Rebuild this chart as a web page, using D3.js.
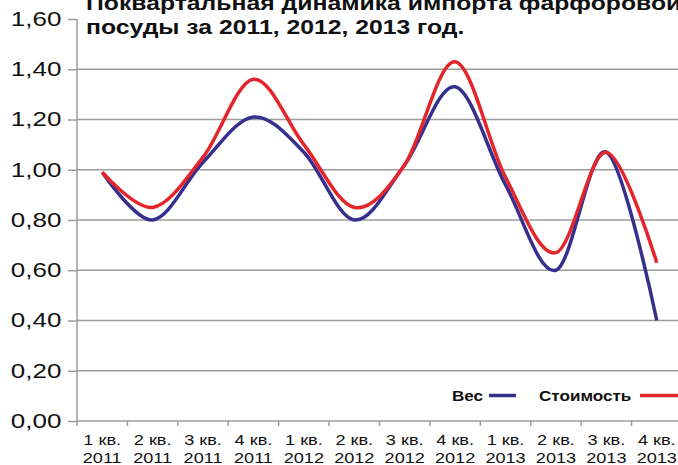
<!DOCTYPE html>
<html>
<head>
<meta charset="utf-8">
<title>Импорт фарфоровой посуды</title>
<script src="https://cdn.jsdelivr.net/npm/d3@7"></script>
<style>
body { margin: 0; background: #fff; }
svg { display: block; font-family: "Liberation Sans", Arial, Helvetica, sans-serif; }
</style>
</head>
<body>
<div id="grafico"></div>
<script>
// данные
var categories = ["1 кв. 2011", "2 кв. 2011", "3 кв. 2011", "4 кв. 2011",
                  "1 кв. 2012", "2 кв. 2012", "3 кв. 2012", "4 кв. 2012",
                  "1 кв. 2013", "2 кв. 2013", "3 кв. 2013", "4 кв. 2013"];
var ves      = [0.99, 0.80, 1.03, 1.21, 1.07, 0.80, 1.02, 1.33, 0.94, 0.60, 1.07, 0.40];
var stoimost = [0.99, 0.85, 1.05, 1.36, 1.10, 0.85, 1.02, 1.43, 0.97, 0.67, 1.07, 0.63];
var yTicks = [0, 0.2, 0.4, 0.6, 0.8, 1.0, 1.2, 1.4, 1.6];
var titleLines = ["Поквартальная динамика импорта фарфоровой", "посуды за 2011, 2012, 2013 год."];
var seriesNames = ["Вес", "Стоимость"];
var colors = ["#372f8e", "#e3262b"];

var width = 678, height = 465;
var stretch = 1.25; // в оригинале текст растянут по горизонтали
var gridColor = "#9c9c9c";

var svg = d3.select("#grafico").append("svg")
	.attr("width", width)
	.attr("height", height);

var x = d3.scaleBand()
	.domain(categories)
	.range([77, 682]);

var y = d3.scaleLinear()
	.domain([0, 1.6])
	.range([421, 19]);

var ru = d3.formatLocale({decimal: ",", thousands: " ", grouping: [3], currency: ["", ""]});
var fmt = ru.format(".2f");

// сетка
svg.append("g")
	.selectAll("line")
	.data(yTicks.filter(function(v) { return v > 0 && v < 1.6; }))
  .enter().append("line")
	.attr("x1", 77).attr("x2", width)
	.attr("y1", function(d) { return y(d); })
	.attr("y2", function(d) { return y(d); })
	.attr("stroke", gridColor)
	.attr("stroke-width", 1.5);

// ось Y
var yAxis = d3.axisLeft(y).tickValues(yTicks).tickSize(9).tickPadding(6).tickFormat(fmt);
var gy = svg.append("g")
	.attr("transform", "translate(77,0)")
	.call(yAxis);
gy.select(".domain").remove();
gy.selectAll("line").attr("stroke", gridColor).attr("stroke-width", 1.5);
gy.append("line")
	.attr("x1", 0).attr("x2", 0)
	.attr("y1", y(1.6)).attr("y2", y(0) + 5)
	.attr("stroke", gridColor).attr("stroke-width", 1.5);
gy.selectAll("text")
	.attr("x", -15 / stretch)
	.attr("transform", "scale(" + 1.3 + ",1)")
	.style("font-size", "20px")
	.style("font-family", "'Liberation Sans', Arial, sans-serif")
	.attr("fill", "#111");

// ось X
var xAxis = d3.axisBottom(x).tickSize(0).tickPadding(0);
var gx = svg.append("g")
	.attr("transform", "translate(0," + y(0) + ")")
	.call(xAxis);
gx.select(".domain").remove();
gx.append("line")
	.attr("x1", 77).attr("x2", width)
	.attr("y1", 0).attr("y2", 0)
	.attr("stroke", gridColor).attr("stroke-width", 1.5);
gx.selectAll(".bound")
	.data(categories.slice(1))
  .enter().append("line")
	.attr("class", "bound")
	.attr("x1", function(d) { return x(d); })
	.attr("x2", function(d) { return x(d); })
	.attr("y1", 0).attr("y2", 5)
	.attr("stroke", gridColor).attr("stroke-width", 1.5);
gx.selectAll(".tick text").each(function(d) {
	var t = d3.select(this);
	var parts = d.split(" ");
	t.text(null)
		.attr("y", 0)
		.attr("dy", null)
		.attr("transform", "scale(" + stretch + ",1)")
		.style("font-size", "14.5px")
		.style("font-family", "'Liberation Sans', Arial, sans-serif")
		.attr("fill", "#111");
	t.append("tspan").attr("x", 0).attr("y", 24).text(parts[0] + " " + parts[1]);
	t.append("tspan").attr("x", 0).attr("y", 42).text(parts[2]);
});

// линии
var line = d3.line()
	.x(function(d, i) { return x(categories[i]) + x.bandwidth() / 2; })
	.y(function(d) { return y(d); })
	.curve(d3.curveCardinal);

[ves, stoimost].forEach(function(s, i) {
	svg.append("path")
		.datum(s)
		.attr("fill", "none")
		.attr("stroke", colors[i])
		.attr("stroke-width", 3.5)
		.attr("stroke-linecap", "butt")
		.attr("d", line);
});

// заголовок
var title = svg.append("g").attr("transform", "translate(86,0)");
titleLines.forEach(function(s, i) {
	title.append("text")
		.attr("transform", "translate(0," + (9.5 + i * 24) + ") scale(" + stretch + ",1)")
		.style("font-size", "19.8px")
		.style("font-weight", "bold")
		.attr("fill", "#111")
		.text(s);
});

// легенда
var legend = svg.append("g").attr("class", "legend");
var legendItems = [{x: 452, lx: 489, lw: 27}, {x: 539, lx: 640, lw: 40}];
legendItems.forEach(function(it, i) {
	legend.append("text")
		.attr("transform", "translate(" + it.x + ",400.5) scale(" + 1.22 + ",1)")
		.style("font-size", "14px")
		.style("font-weight", "bold")
		.attr("fill", "#111")
		.text(seriesNames[i]);
	legend.append("line")
		.attr("x1", it.lx).attr("x2", it.lx + it.lw)
		.attr("y1", 395.5).attr("y2", 395.5)
		.attr("stroke", colors[i])
		.attr("stroke-width", 3.5);
});
</script>
</body>
</html>
